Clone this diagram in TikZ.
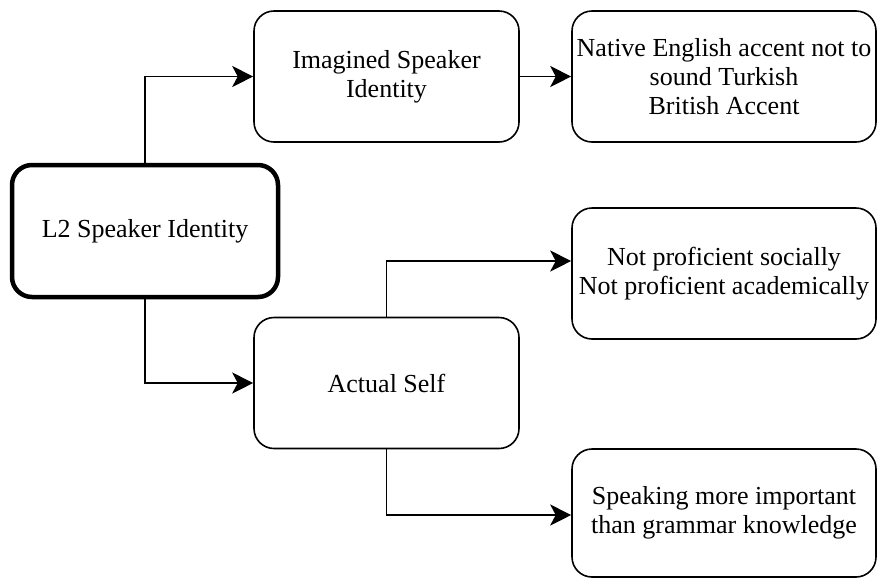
\documentclass[tikz,border=0pt]{standalone}
\usepackage{fontspec}
\setmainfont{Liberation Serif}
\usetikzlibrary{arrows.meta}
\begin{document}
\begin{tikzpicture}[x=1pt,y=-1pt,
  box/.style={draw, rounded corners=20pt, line width=1.6pt, align=center,
    inner sep=0pt, font=\fontsize{26}{29}\selectfont},
  mainbox/.style={box, line width=4.5pt},
  link/.style={line width=1.8pt, -{Stealth[length=21pt,width=21pt,inset=5.5pt]}}]
  \useasboundingbox (0,0) rectangle (877,579);

  % boxes
  \node[mainbox, minimum width=266pt, minimum height=132pt] (l2) at (145,231) {L2 Speaker Identity};
  \node[box, minimum width=265pt, minimum height=131pt] (imag) at (386.5,76.5) {Imagined Speaker\\Identity};
  \node[box, minimum width=304pt, minimum height=131pt] (native) at (724,76.5) {Native English accent not to\\sound Turkish\\British Accent};
  \node[box, minimum width=265pt, minimum height=131pt] (act) at (386.5,383) {Actual Self};
  \node[box, minimum width=304pt, minimum height=131pt] (prof) at (724,273.5) {Not proficient socially\\Not proficient academically};
  \node[box, minimum width=304pt, minimum height=128pt] (speak) at (724,513) {\raisebox{-5pt}{\begin{tabular}{@{}c@{}}Speaking more important\\than grammar knowledge\end{tabular}}};

  % connectors
  \draw[link] (l2.north) |- (imag.west);
  \draw[link] (imag.east) -- (native.west);
  \draw[link] (l2.south) |- (act.west);
  \draw[link] (act.north) |- ([yshift=12.5pt]prof.west);
  \draw[link] (act.south) |- ([yshift=-2pt]speak.west);
\end{tikzpicture}
\end{document}
